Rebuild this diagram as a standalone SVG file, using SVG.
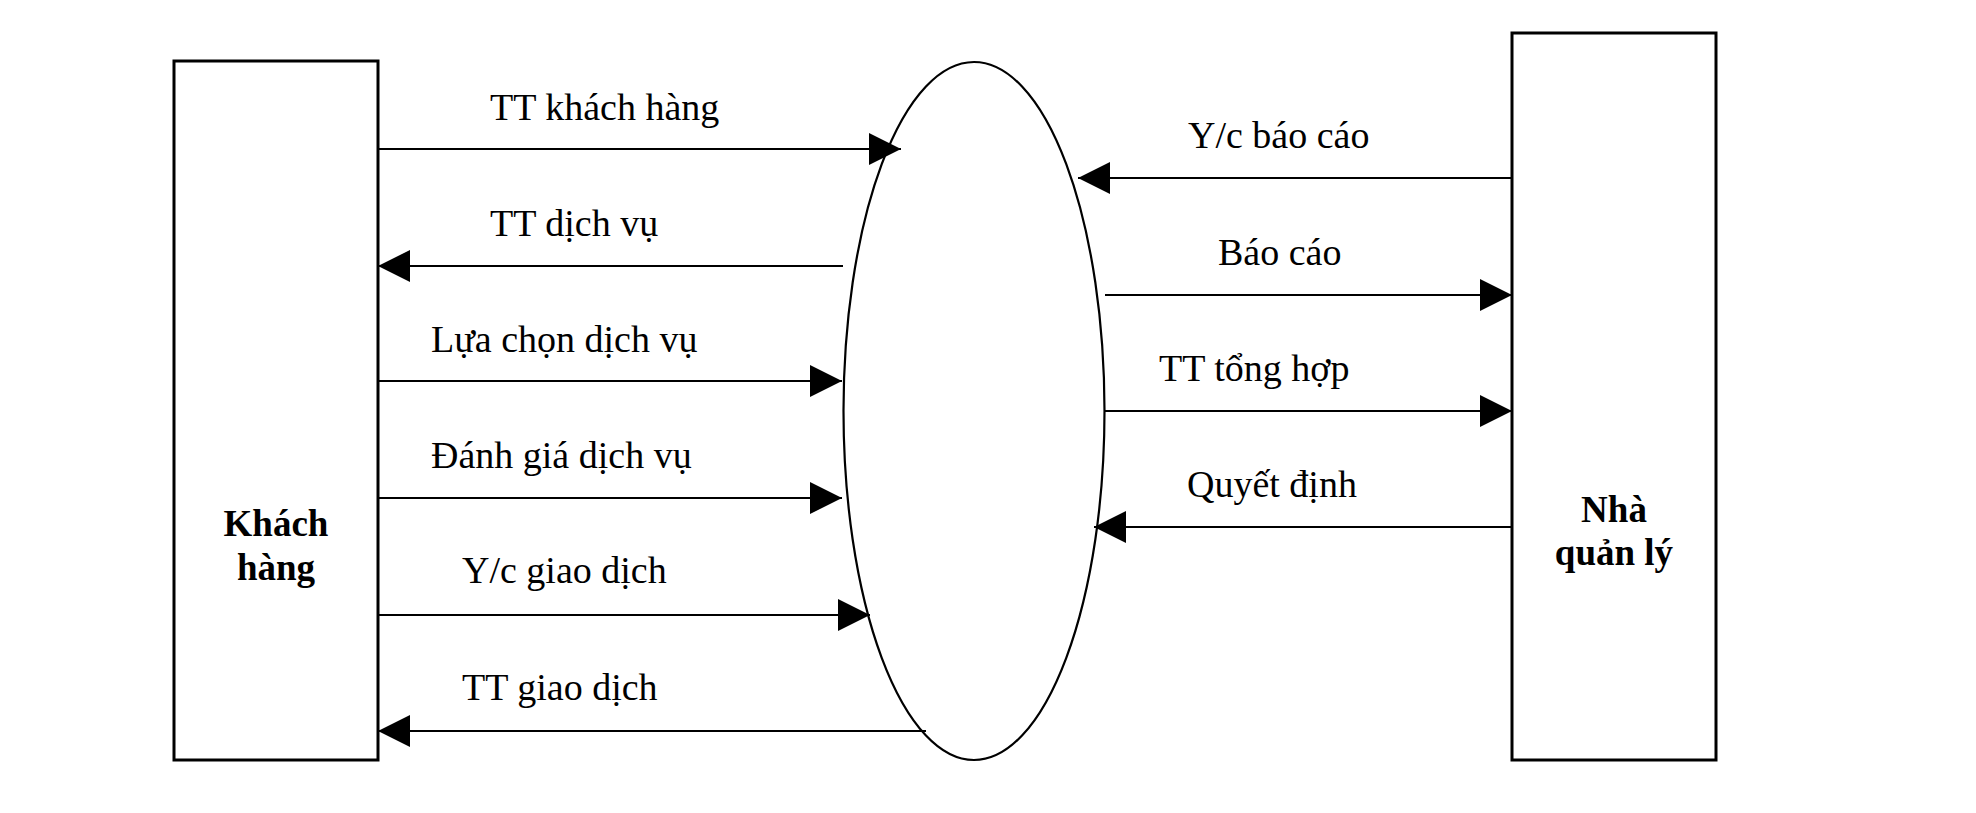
<svg xmlns="http://www.w3.org/2000/svg" width="1976" height="813" viewBox="0 0 1976 813">
<style>
.box{fill:#fff;stroke:#000;stroke-width:3}
.proc{fill:#fff;stroke:#000;stroke-width:2.2}
.flow{stroke:#000;stroke-width:2.2;fill:none;marker-end:url(#ah)}
.lbl{font-family:"Liberation Serif","Times New Roman",serif;font-size:38px;fill:#000}
.name{font-family:"Liberation Serif","Times New Roman",serif;font-size:37px;font-weight:bold;fill:#000;text-anchor:middle}
</style>
<defs>
<marker id="ah" markerUnits="userSpaceOnUse" markerWidth="32" markerHeight="32" refX="32" refY="16" orient="auto">
<path d="M0,0 L32,16 L0,32 Z" fill="#000"/>
</marker>
</defs>
<rect width="1976" height="813" fill="#fff"/>
<g id="khach-hang">
<rect class="box" x="174" y="61" width="204" height="699"/>
<text class="name" x="276" y="536">Khách</text>
<text class="name" x="276" y="580">hàng</text>
</g>
<g id="he-thong">
<ellipse class="proc" cx="974" cy="411" rx="130.5" ry="349"/>
</g>
<g id="nha-quan-ly">
<rect class="box" x="1512" y="33" width="204" height="727"/>
<text class="name" x="1614" y="522">Nhà</text>
<text class="name" x="1614" y="565">quản lý</text>
</g>
<g id="connectors">
<path class="flow" d="M378,149 H901"/>
<path class="flow" d="M843,266 H378"/>
<path class="flow" d="M378,381 H842"/>
<path class="flow" d="M378,498 H842"/>
<path class="flow" d="M378,615 H870"/>
<path class="flow" d="M926,731 H378"/>
<path class="flow" d="M1512,178 H1078"/>
<path class="flow" d="M1105,295 H1512"/>
<path class="flow" d="M1105,411 H1512"/>
<path class="flow" d="M1512,527 H1094"/>
<text class="lbl" x="490" y="120">TT khách hàng</text>
<text class="lbl" x="490" y="236">TT dịch vụ</text>
<text class="lbl" x="431" y="352">Lựa chọn dịch vụ</text>
<text class="lbl" x="431" y="468">Đánh giá dịch vụ</text>
<text class="lbl" x="462" y="583">Y/c giao dịch</text>
<text class="lbl" x="462" y="700">TT giao dịch</text>
<text class="lbl" x="1188" y="148">Y/c báo cáo</text>
<text class="lbl" x="1218" y="265">Báo cáo</text>
<text class="lbl" x="1159" y="381">TT tổng hợp</text>
<text class="lbl" x="1187" y="497">Quyết định</text>
</g>
</svg>
